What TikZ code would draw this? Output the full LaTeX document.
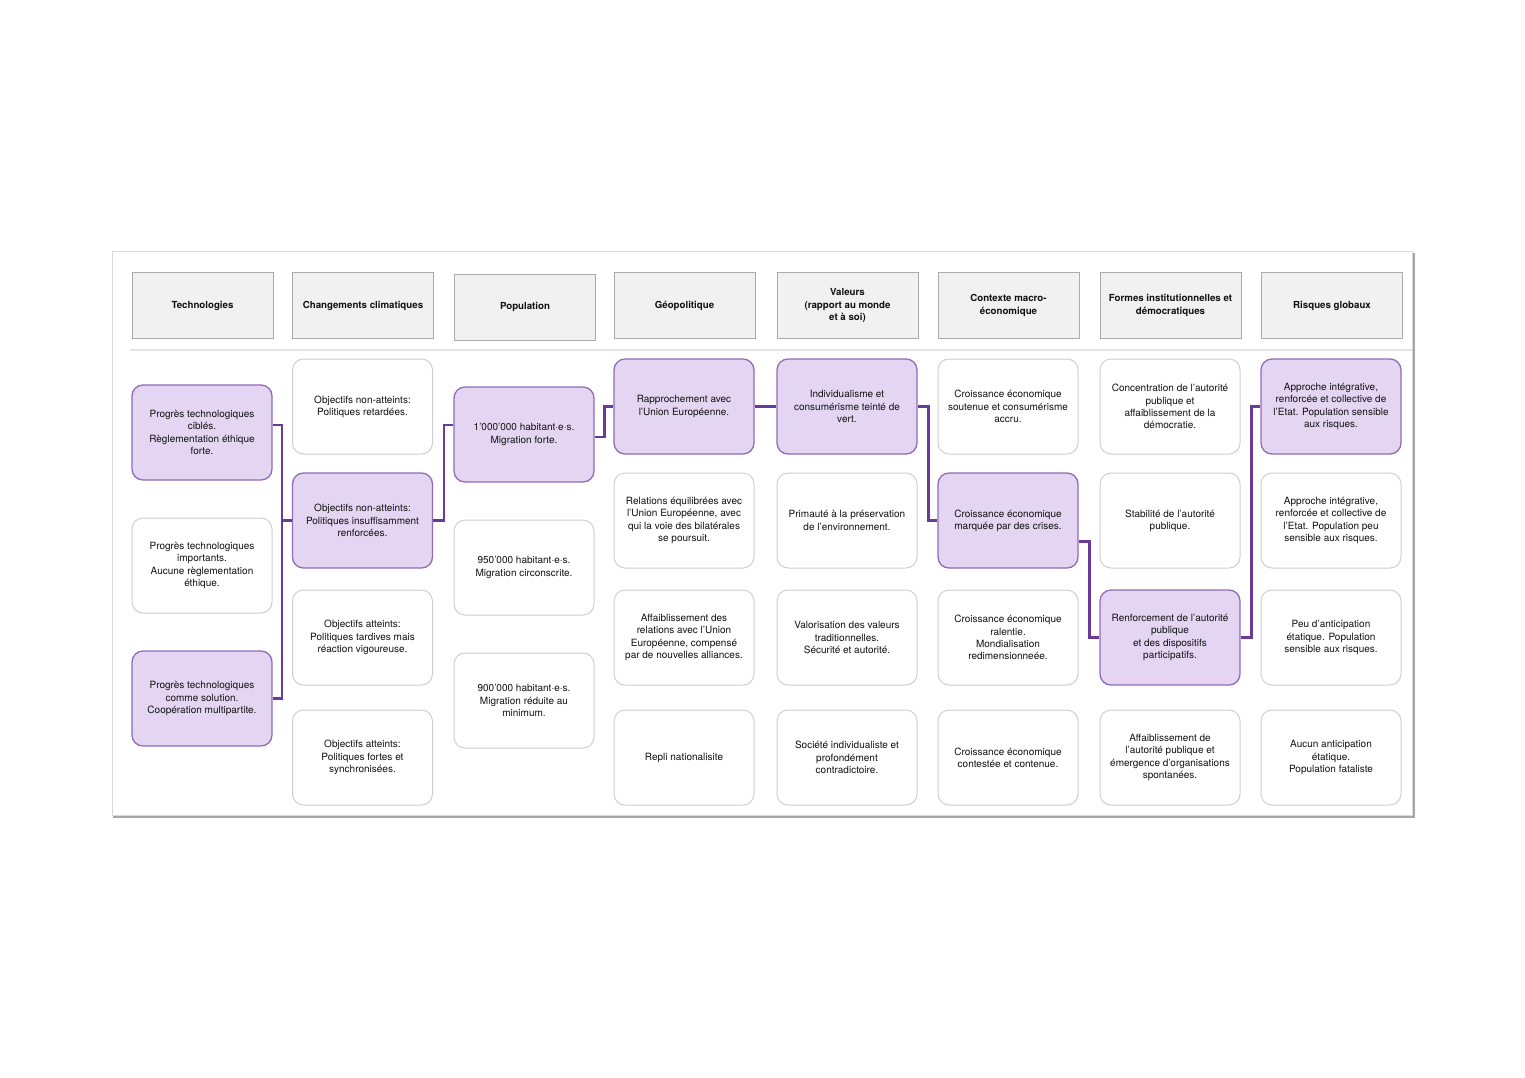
\documentclass[tikz,border=0pt]{standalone}
\usepackage{fontspec}
\setmainfont{TeX Gyre Heros}
\usetikzlibrary{calc}
\definecolor{pfill}{HTML}{E4D6F2}
\definecolor{pdraw}{HTML}{8F6CB8}
\definecolor{pline}{HTML}{6B3A98}
\definecolor{gdraw}{HTML}{CFCFCF}
\definecolor{hfill}{HTML}{F1F1F1}
\definecolor{hdraw}{HTML}{ABABAB}
\definecolor{txt}{HTML}{111111}
\begin{document}
\begin{tikzpicture}[x=1pt,y=-1pt,
 card/.style={draw=gdraw, line width=1pt, fill=white, rounded corners=11pt, minimum width=140pt, minimum height=95pt, align=center, font=\fontsize{10}{12.3}\selectfont, text=txt, inner sep=2pt},
 sel/.style={card, fill=pfill, draw=pdraw, line width=1.3pt},
 head/.style={draw=hdraw, line width=1pt, fill=hfill, minimum width=141pt, minimum height=66pt, align=center, font=\fontsize{9.7}{12.3}\selectfont\bfseries, text=txt},
 conn/.style={draw=pline, line width=2.4pt}]
\useasboundingbox (0,0) rectangle (1525,1077);
\fill[white] (0,0) rectangle (1525,1077);
% panel with shadow
\fill[gray!70] (113,253) rectangle (1415,818);
\fill[white] (112,251) rectangle (1412,815);
\draw[gray!30, line width=0.6pt] (112,251) rectangle (1412,815);
\draw[gray!22, line width=2.5pt] (130,350) -- (1412,350);
% headers
\node[head] (h1) at (202.5,305.5) {Technologies};
\node[head] (h2) at (363,305.5) {Changements climatiques};
\node[head] (h3) at (525,307) {Population};
\node[head] (h4) at (684.5,305.5) {Géopolitique};
\node[head] (h5) at (847.5,305.5) {Valeurs\\(rapport au monde\\et à soi)};
\node[head] (h6) at (1008.5,305.5) {Contexte macro-\\économique};
\node[head] (h7) at (1170.5,305.5) {Formes institutionnelles et\\démocratiques};
\node[head] (h8) at (1332,305.5) {Risques globaux};
% column 1
\node[sel]  (t1) at (202,432.5) {Progrès technologiques\\ciblés.\\Règlementation éthique\\forte.};
\node[card] (t2) at (202,565.5) {Progrès technologiques\\importants.\\Aucune règlementation\\éthique.};
\node[sel]  (t3) at (202,698.5) {Progrès technologiques\\comme solution.\\Coopération multipartite.};
% column 2
\node[card] (c1) at (362.5,406.5) {Objectifs non-atteints:\\Politiques retardées.};
\node[sel]  (c2) at (362.5,520.5) {Objectifs non-atteints:\\Politiques insuffisamment\\renforcées.};
\node[card] (c3) at (362.5,637.5) {Objectifs atteints:\\Politiques tardives mais\\réaction vigoureuse.};
\node[card] (c4) at (362.5,757.5) {Objectifs atteints:\\Politiques fortes et\\synchronisées.};
% column 3
\node[sel]  (p1) at (524,434.5) {1'000'000 habitant·e·s.\\Migration forte.};
\node[card] (p2) at (524,567.5) {950'000 habitant·e·s.\\Migration circonscrite.};
\node[card] (p3) at (524,700.5) {900'000 habitant·e·s.\\Migration réduite au\\minimum.};
% column 4
\node[sel]  (g1) at (684,406.5) {Rapprochement avec\\l'Union Européenne.};
\node[card] (g2) at (684,520.5) {Relations équilibrées avec\\l'Union Européenne, avec\\qui la voie des bilatérales\\se poursuit.};
\node[card] (g3) at (684,637.5) {Affaiblissement des\\relations avec l'Union\\Européenne, compensé\\par de nouvelles alliances.};
\node[card] (g4) at (684,757.5) {Repli nationalisite};
% column 5
\node[sel]  (v1) at (847,406.5) {Individualisme et\\consumérisme teinté de\\vert.};
\node[card] (v2) at (847,520.5) {Primauté à la préservation\\de l'environnement.};
\node[card] (v3) at (847,637.5) {Valorisation des valeurs\\traditionnelles.\\Sécurité et autorité.};
\node[card] (v4) at (847,757.5) {Société individualiste et\\profondément\\contradictoire.};
% column 6
\node[card] (e1) at (1008,406.5) {Croissance économique\\soutenue et consumérisme\\accru.};
\node[sel]  (e2) at (1008,520.5) {Croissance économique\\marquée par des crises.};
\node[card] (e3) at (1008,637.5) {Croissance économique\\ralentie.\\Mondialisation\\redimensionneée.};
\node[card] (e4) at (1008,757.5) {Croissance économique\\contestée et contenue.};
% column 7
\node[card] (f1) at (1170,406.5) {Concentration de l'autorité\\publique et\\affaiblissement de la\\démocratie.};
\node[card] (f2) at (1170,520.5) {Stabilité de l'autorité\\publique.};
\node[sel]  (f3) at (1170,637.5) {Renforcement de l'autorité\\publique\\et des dispositifs\\participatifs.};
\node[card] (f4) at (1170,757.5) {Affaiblissement de\\l'autorité publique et\\émergence d'organisations\\spontanées.};
% column 8
\node[sel]  (r1) at (1331,406.5) {Approche intégrative,\\renforcée et collective de\\l'Etat. Population sensible\\aux risques.};
\node[card] (r2) at (1331,520.5) {Approche intégrative,\\renforcée et collective de\\l'Etat. Population peu\\sensible aux risques.};
\node[card] (r3) at (1331,637.5) {Peu d'anticipation\\étatique. Population\\sensible aux risques.};
\node[card] (r4) at (1331,757.5) {Aucun anticipation\\étatique.\\Population fataliste};
% connectors
\coordinate (b1) at (282,520.5);
\draw[conn] ([yshift=7.5pt]t1.east) -| (b1) |- (t3.east);
\draw[conn] (b1) -- (c2.west);
\draw[conn] (c2.east) -- ++(11,0) |- ([yshift=9.5pt]p1.west);
\draw[conn] ([yshift=-2.5pt]p1.east) -- ++(10,0) |- (g1.west);
\draw[conn] (g1.east) -- (v1.west);
\draw[conn] (v1.east) -- ++(11,0) |- (e2.west);
\draw[conn] ([yshift=-21pt]e2.east) -- ++(11,0) |- (f3.west);
\draw[conn] (f3.east) -- ++(11,0) |- (r1.west);
\end{tikzpicture}
\end{document}
